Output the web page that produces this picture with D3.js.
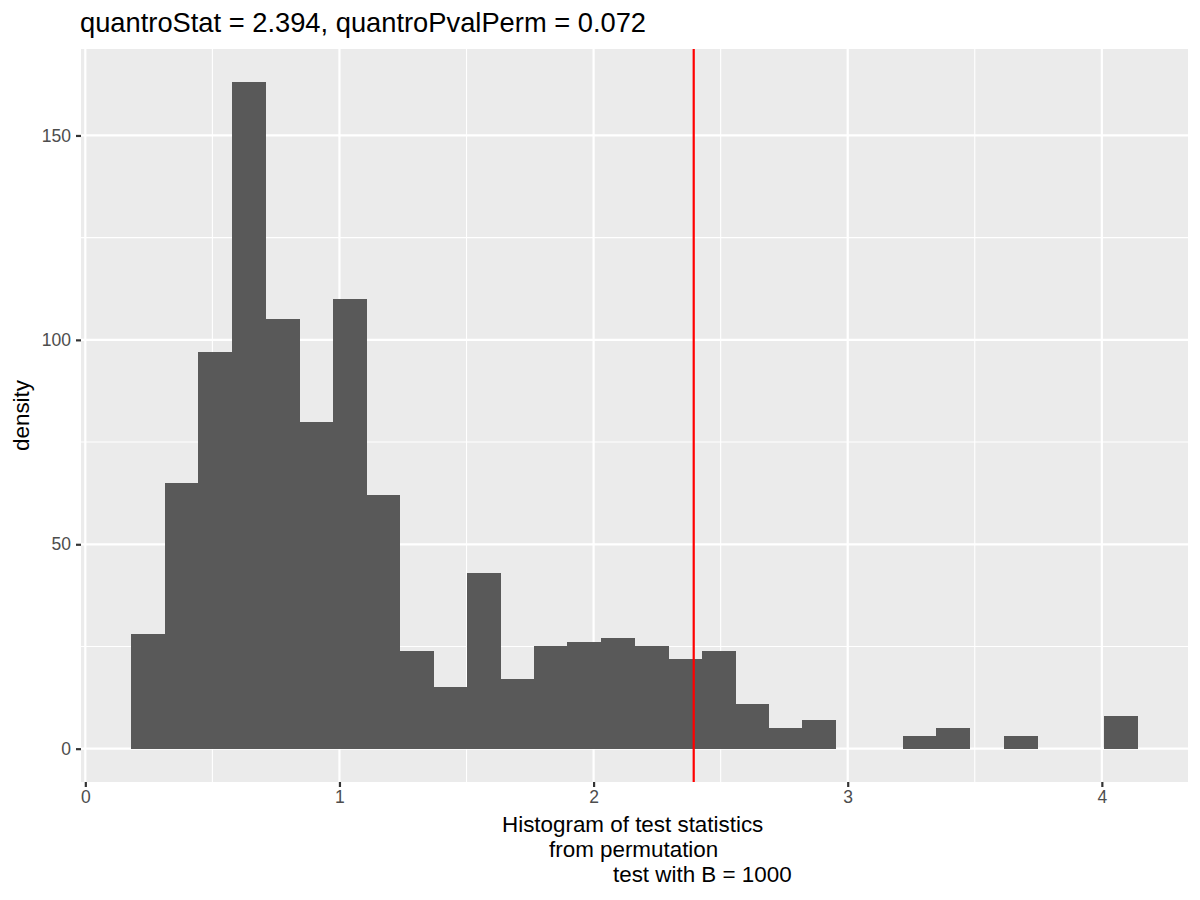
<!DOCTYPE html>
<html lang="en">
<head>
  <meta charset="UTF-8">
  <title>Histogram of permutation test statistics</title>
  <script src="https://d3js.org/d3.v7.min.js"></script>
  <style>
    body {
      margin: 0;
      background: #ffffff;
      font-family: "Liberation Sans", Arial, Helvetica, sans-serif;
    }
    svg {
      display: block;
    }
  </style>
</head>
<body>
  <svg id="chart" width="1200" height="900"></svg>

  <script>
    // bin lower edges (30 bins, width ~0.132)
    const binLeft = [0.181, 0.313, 0.445, 0.577, 0.709, 0.841, 0.973, 1.105, 1.237, 1.369,
                     1.501, 1.633, 1.765, 1.897, 2.029, 2.161, 2.293, 2.425, 2.557, 2.689,
                     2.821, 2.953, 3.085, 3.217, 3.349, 3.481, 3.613, 3.745, 3.877, 4.009];
    const binRight = [0.313, 0.445, 0.577, 0.709, 0.841, 0.973, 1.105, 1.237, 1.369, 1.501,
                      1.633, 1.765, 1.897, 2.029, 2.161, 2.293, 2.425, 2.557, 2.689, 2.821,
                      2.953, 3.085, 3.217, 3.349, 3.481, 3.613, 3.745, 3.877, 4.009, 4.141];
    const binHeight = [28, 65, 97, 163, 105, 80, 110, 62, 24, 15,
                       43, 17, 25, 26, 27, 25, 22, 24, 11, 5,
                       7, 0, 0, 3, 5, 0, 3, 0, 0, 8];

    const quantroStat = 2.394;
    const titleText = "quantroStat = 2.394, quantroPvalPerm = 0.072";
    const xTitleLines = ["Histogram of test statistics", "from permutation", "test with B = 1000"];
    const yTitle = "density";

    const xMajor = [0, 1, 2, 3, 4];
    const xMinor = [0.5, 1.5, 2.5, 3.5];
    const yMajor = [0, 50, 100, 150];
    const yMinor = [25, 75, 125];

    // panel box
    const panel = { left: 81, right: 1188, top: 49, bottom: 782 };

    const svg = d3.select("#chart");

    const x = d3.scaleLinear()
      .domain([-0.017, 4.339])
      .range([panel.left, panel.right]);

    const y = d3.scaleLinear()
      .domain([-8.15, 171.15])
      .range([panel.bottom, panel.top]);

    // panel background
    svg.append("rect")
      .attr("x", panel.left)
      .attr("y", panel.top)
      .attr("width", panel.right - panel.left)
      .attr("height", panel.bottom - panel.top)
      .attr("fill", "#ebebeb");

    const grid = svg.append("g");

    // minor grid
    grid.selectAll(".xminor")
      .data(xMinor)
      .enter().append("line")
      .attr("x1", d => x(d)).attr("x2", d => x(d))
      .attr("y1", panel.top).attr("y2", panel.bottom)
      .attr("stroke", "#ffffff").attr("stroke-width", 1.1);

    grid.selectAll(".yminor")
      .data(yMinor)
      .enter().append("line")
      .attr("x1", panel.left).attr("x2", panel.right)
      .attr("y1", d => y(d)).attr("y2", d => y(d))
      .attr("stroke", "#ffffff").attr("stroke-width", 1.1);

    // major grid
    grid.selectAll(".xmajor")
      .data(xMajor)
      .enter().append("line")
      .attr("x1", d => x(d)).attr("x2", d => x(d))
      .attr("y1", panel.top).attr("y2", panel.bottom)
      .attr("stroke", "#ffffff").attr("stroke-width", 2.2);

    grid.selectAll(".ymajor")
      .data(yMajor)
      .enter().append("line")
      .attr("x1", panel.left).attr("x2", panel.right)
      .attr("y1", d => y(d)).attr("y2", d => y(d))
      .attr("stroke", "#ffffff").attr("stroke-width", 2.2);

    // histogram bars (crisp edges so neighbours don't show seams)
    svg.append("g")
      .attr("shape-rendering", "crispEdges")
      .selectAll("rect")
      .data(binHeight.map((h, i) => ({ x0: binLeft[i], x1: binRight[i], h: h })))
      .enter().append("rect")
      .attr("x", d => x(d.x0))
      .attr("width", d => x(d.x1) - x(d.x0) + 0.5)
      .attr("y", d => y(d.h))
      .attr("height", d => y(0) - y(d.h))
      .attr("fill", "#595959");

    // observed statistic
    svg.append("line")
      .attr("x1", x(quantroStat)).attr("x2", x(quantroStat))
      .attr("y1", panel.top).attr("y2", panel.bottom)
      .attr("stroke", "#ff0000")
      .attr("stroke-width", 2.2);

    // x axis
    const xAxis = d3.axisBottom(x)
      .tickValues(xMajor)
      .tickSize(5)
      .tickPadding(4)
      .tickFormat(d3.format("d"));

    const gx = svg.append("g")
      .attr("transform", `translate(0,${panel.bottom})`)
      .call(xAxis);
    gx.select(".domain").remove();
    gx.selectAll(".tick line").attr("stroke", "#333333").attr("stroke-width", 2.2);
    gx.selectAll(".tick text")
      .attr("fill", "#4d4d4d")
      .style("font-size", "17.5px")
      .style("font-family", "'Liberation Sans', Arial, sans-serif");

    // y axis
    const yAxis = d3.axisLeft(y)
      .tickValues(yMajor)
      .tickSize(5)
      .tickPadding(5)
      .tickFormat(d3.format("d"));

    const gy = svg.append("g")
      .attr("transform", `translate(${panel.left},0)`)
      .call(yAxis);
    gy.select(".domain").remove();
    gy.selectAll(".tick line").attr("stroke", "#333333").attr("stroke-width", 2.2);
    gy.selectAll(".tick text")
      .attr("fill", "#4d4d4d")
      .style("font-size", "17.5px")
      .style("font-family", "'Liberation Sans', Arial, sans-serif");

    // titles
    svg.append("text")
      .attr("x", 80)
      .attr("y", 32)
      .attr("fill", "#000000")
      .style("font-size", "27.3px")
      .text(titleText);

    const xStart = [502, 549, 613];
    svg.append("g")
      .selectAll("text")
      .data(xTitleLines)
      .enter().append("text")
      .attr("x", (d, i) => xStart[i])
      .attr("y", (d, i) => 832 + i * 25)
      .attr("fill", "#000000")
      .style("font-size", "22.4px")
      .text(d => d);

    svg.append("text")
      .attr("transform", `translate(29,${(panel.top + panel.bottom) / 2}) rotate(-90)`)
      .attr("text-anchor", "middle")
      .attr("fill", "#000000")
      .style("font-size", "22.4px")
      .text(yTitle);
  </script>
</body>
</html>
